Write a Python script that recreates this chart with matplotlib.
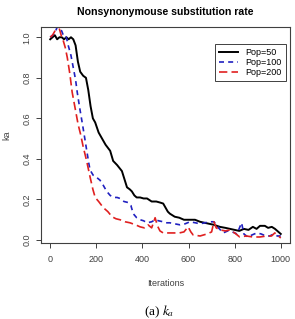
import matplotlib
matplotlib.use('Agg')
import matplotlib.pyplot as plt

# (iteration, ka)
x50 = [0, 10, 20, 30, 40, 50, 60, 70, 80, 90, 100, 110, 120, 130, 143, 155, 165, 175, 185,
       195, 210, 225, 240, 260, 273, 290, 311, 322, 333, 345, 354, 365, 375, 390, 405, 420,
       440, 460, 476, 490, 500, 510, 519, 540, 560, 580, 600, 628, 650, 670, 690, 710, 736,
       760, 780, 800, 820, 840, 860, 879, 895, 910, 931, 945, 961, 975, 990, 1000]
y50 = [0.99, 1.0, 1.01, 0.99, 1.0, 1.0, 0.99, 1.0, 0.99, 1.0, 0.99, 0.96, 0.88, 0.83, 0.81,
       0.80, 0.74, 0.66, 0.60, 0.58, 0.53, 0.50, 0.47, 0.44, 0.39, 0.37, 0.34, 0.30, 0.26,
       0.25, 0.24, 0.22, 0.21, 0.21, 0.205, 0.205, 0.19, 0.19, 0.185, 0.18, 0.16, 0.14, 0.13,
       0.115, 0.11, 0.10, 0.10, 0.10, 0.09, 0.085, 0.08, 0.075, 0.065, 0.06, 0.055, 0.05,
       0.045, 0.055, 0.05, 0.065, 0.055, 0.07, 0.07, 0.06, 0.065, 0.055, 0.04, 0.03]

x100 = [0, 10, 20, 30, 40, 50, 60, 70, 78, 90, 100, 110, 117, 128, 140, 150, 160, 167,
        173, 186, 200, 216, 230, 245, 260, 275, 290, 303, 320, 338, 350, 360, 375, 390,
        405, 420, 440, 455, 470, 490, 500, 519, 540, 563, 585, 606, 630, 650, 670, 693,
        710, 730, 750, 770, 790, 810, 830, 840, 857, 875, 896, 915, 935, 952, 970, 985, 1000]
y100 = [1.0, 1.01, 1.02, 1.05, 1.05, 1.03, 1.0, 1.0, 0.96, 0.91, 0.85, 0.79, 0.73, 0.65,
        0.57, 0.50, 0.43, 0.38, 0.345, 0.32, 0.31, 0.295, 0.27, 0.24, 0.22, 0.21, 0.21,
        0.205, 0.19, 0.185, 0.17, 0.13, 0.11, 0.10, 0.095, 0.085, 0.09, 0.10, 0.095,
        0.09, 0.085, 0.085, 0.08, 0.075, 0.08, 0.09, 0.085, 0.08, 0.085, 0.09, 0.09,
        0.06, 0.035, 0.045, 0.04, 0.03, 0.085, 0.03, 0.015, 0.025, 0.035, 0.03, 0.02,
        0.02, 0.03, 0.02, 0.02]

x200 = [0, 10, 20, 30, 40, 50, 56, 65, 74, 85, 95, 108, 121, 132, 143, 158, 173, 185,
        195, 210, 230, 250, 268, 285, 303, 325, 346, 370, 390, 408, 424, 440, 455, 465,
        476, 490, 510, 540, 560, 580, 598, 610, 620, 650, 680, 700, 710, 720, 736, 760,
        780, 800, 822, 850, 880, 909, 939, 960, 974, 990, 1000]
y200 = [1.0, 1.01, 1.03, 1.03, 1.04, 1.0, 0.985, 0.95, 0.90, 0.82, 0.73, 0.65, 0.57, 0.52,
        0.46, 0.39, 0.31, 0.25, 0.21, 0.19, 0.16, 0.14, 0.115, 0.105, 0.10, 0.09, 0.085,
        0.075, 0.065, 0.06, 0.075, 0.06, 0.11, 0.07, 0.045, 0.035, 0.035, 0.035, 0.035,
        0.04, 0.065, 0.04, 0.025, 0.02, 0.03, 0.04, 0.09, 0.06, 0.05, 0.045, 0.05, 0.035,
        0.015, 0.02, 0.015, 0.015, 0.02, 0.02, 0.035, 0.02, 0.01]

xticks = [0, 200, 400, 600, 800, 1000]
yticks = [0.0, 0.2, 0.4, 0.6, 0.8, 1.0]

plt.rcParams['font.family'] = ['Liberation Sans', 'DejaVu Sans']
plt.rcParams['mathtext.fontset'] = 'stix'

fig = plt.figure(figsize=(2.95, 3.19), dpi=100)
ax = fig.add_axes([0.139, 0.238, 0.844, 0.677])

ax.plot(x50, y50, color='black', lw=1.4, label='Pop=50')
ax.plot(x100, y100, color='#2020c0', lw=1.2, ls=(0, (3, 2.5)), label='Pop=100')
ax.plot(x200, y200, color='#e02020', lw=1.2, ls=(0, (5, 2.5)), label='Pop=200')

ax.set_xlim(-40, 1040)
ax.set_ylim(-0.015, 1.05)
ax.set_xticks(xticks)
ax.set_xticklabels([str(t) for t in xticks])
ax.set_yticks(yticks)
ax.set_yticklabels(['%.1f' % t for t in yticks], rotation=90, va='center')
ax.tick_params(labelsize=6.5, labelcolor='#404040', color='#404040', length=3.5, width=0.7)
ax.tick_params(axis='x', pad=5)
for s in ax.spines.values():
    s.set_color('#404040')
    s.set_linewidth(0.8)

ax.set_xlabel('Iterations', fontsize=6.5, color='#404040', labelpad=11)
ax.set_ylabel('ka', fontsize=6.5, color='#404040', labelpad=8)
ax.set_title('Nonsynonymouse substitution rate', fontsize=7.6, fontweight='bold', pad=9)

leg = ax.legend(loc='upper right', bbox_to_anchor=(0.984, 0.921), borderaxespad=0,
                fontsize=6.5, fancybox=False, handlelength=2.2, borderpad=0.45,
                labelspacing=0.1, framealpha=1)
leg.get_frame().set_edgecolor('#404040')
leg.get_frame().set_linewidth(0.7)

fig.text(0.54, 0.022, '(a) $k_a$', fontsize=9.5, family='Liberation Serif',
         ha='center', va='center')

fig.savefig('out.png', dpi=100)
